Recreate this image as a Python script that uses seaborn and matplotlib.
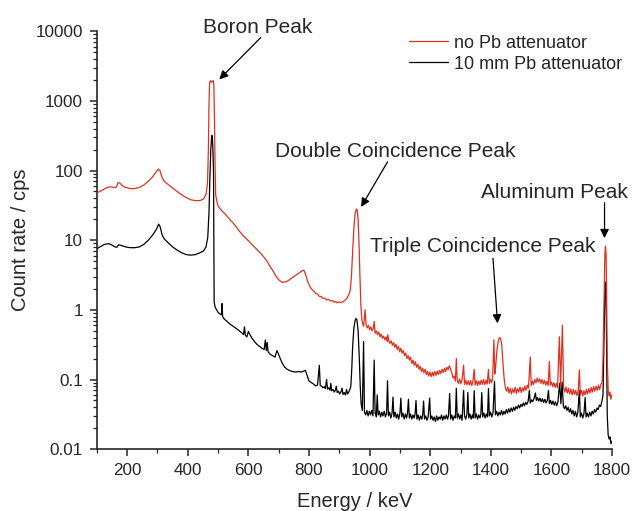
import numpy as np
import pandas as pd
import seaborn as sns
import matplotlib.pyplot as plt
from matplotlib.ticker import MultipleLocator, LogLocator, FuncFormatter, NullFormatter

# spectrum without attenuator (energy in keV, count rate in cps)
red_energy = [
    100, 110, 120, 130, 140, 150, 160, 165, 170, 176, 185, 195, 210, 225, 240, 255, 270, 285, 295, 303,
    308, 315, 322, 335, 350, 370, 390, 410, 425, 440, 452, 460, 465, 468, 470, 472, 475, 478, 481, 484,
    486, 488, 490, 492, 496, 500, 510, 520, 530, 540, 550, 560, 570, 580, 590, 600, 610, 620, 630, 640,
    650, 660, 670, 680, 690, 700, 710, 720, 730, 740, 750, 760, 770, 778, 783, 788, 795, 802, 808, 815,
    822, 828, 834, 840, 846, 852, 858, 864, 870, 876, 882, 888, 894, 900, 906, 912, 918, 924, 930, 936,
    940, 944, 948, 952, 956, 959, 962, 965, 968, 971, 974,
    976, 980, 985, 988, 992, 996, 1000, 1004, 1008, 1012, 1015, 1018, 1022, 1026, 1030, 1034, 1038, 1042,
    1046, 1050, 1054, 1058, 1060, 1063, 1067, 1071, 1075, 1079, 1083, 1087, 1091, 1095, 1099, 1103, 1107,
    1111, 1115, 1119, 1123, 1127, 1131, 1135, 1139, 1143, 1147, 1151, 1155, 1159, 1163, 1167, 1171, 1175,
    1179, 1183, 1187, 1191, 1195, 1199, 1203, 1207, 1211, 1215, 1219, 1223, 1227, 1231, 1235, 1239, 1243,
    1247, 1251, 1255, 1259, 1263, 1267, 1271, 1275, 1279, 1283, 1286, 1289, 1293, 1297, 1301, 1305, 1310,
    1313, 1317, 1321, 1325, 1329, 1333, 1337, 1341, 1345, 1348, 1352, 1356, 1360, 1364, 1368, 1372, 1376,
    1380, 1384, 1388, 1392, 1395, 1399, 1403, 1406, 1410, 1413, 1416, 1420, 1424, 1428, 1432, 1436, 1440,
    1444, 1448, 1452, 1456, 1460, 1464, 1468, 1472, 1476, 1480, 1484, 1488, 1492, 1496, 1500, 1504, 1508,
    1512, 1516, 1520, 1524, 1530, 1533, 1537, 1541, 1545, 1549, 1553, 1557, 1561, 1565, 1569, 1573, 1577,
    1581, 1585, 1589, 1593, 1596, 1600, 1604, 1608, 1612, 1616, 1620, 1626, 1630, 1636, 1640, 1644, 1648,
    1652, 1656, 1660, 1664, 1668, 1672, 1676, 1680, 1684, 1688, 1692, 1695, 1699, 1703, 1707, 1711, 1715,
    1719, 1723, 1727, 1731, 1735, 1739, 1743, 1747, 1751, 1755, 1759, 1763, 1767, 1770, 1773, 1776, 1778,
    1780, 1782, 1784, 1787, 1790, 1793, 1796, 1799,
]
red_counts = [
    48, 50, 53, 56, 58, 58, 57, 58, 67, 66, 60, 57, 55, 55, 57, 62, 70, 82, 95, 105,
    100, 80, 70, 63, 56, 48, 42, 38, 37, 37, 39, 45, 65, 200, 900, 1800, 1950, 1850, 1900, 1950,
    1700, 600, 120, 45, 36, 31, 27, 24.5, 22, 19.5, 17.5, 15.5, 13.5, 12, 10.8, 9.8, 8.8, 8.0, 7.2, 6.5,
    5.8, 5.1, 4.3, 3.7, 3.1, 2.7, 2.5, 2.5, 2.6, 2.8, 3.0, 3.2, 3.45, 3.65, 3.7, 3.3, 2.6, 2.2, 2.0, 1.85,
    1.72, 1.68, 1.56, 1.55, 1.46, 1.47, 1.39, 1.42, 1.34, 1.36, 1.29, 1.32, 1.26, 1.30, 1.27, 1.31, 1.36, 1.45, 1.6, 1.9,
    3, 7, 15, 24, 28, 27, 20, 9, 3, 1.2, 0.75,
    0.66, 0.58, 1.00, 0.62, 0.55, 0.60, 0.52, 0.57, 0.50, 0.54, 0.68, 0.46, 0.50, 0.44, 0.48, 0.41, 0.45, 0.39,
    0.42, 0.37, 0.41, 0.35, 0.44, 0.36, 0.33, 0.36, 0.31, 0.34, 0.29, 0.32, 0.27, 0.30, 0.25, 0.28, 0.24,
    0.26, 0.22, 0.24, 0.20, 0.22, 0.19, 0.21, 0.17, 0.19, 0.16, 0.18, 0.15, 0.165, 0.14, 0.155, 0.13, 0.145,
    0.125, 0.14, 0.118, 0.13, 0.112, 0.128, 0.11, 0.127, 0.112, 0.13, 0.115, 0.132, 0.118, 0.135, 0.122, 0.14, 0.126,
    0.145, 0.13, 0.15, 0.138, 0.158, 0.14, 0.125, 0.105, 0.112, 0.095, 0.20, 0.098, 0.088, 0.102, 0.087, 0.10, 0.16,
    0.085, 0.098, 0.084, 0.096, 0.083, 0.097, 0.082, 0.095, 0.14, 0.083, 0.096, 0.082, 0.095, 0.084, 0.098, 0.085, 0.10,
    0.084, 0.097, 0.086, 0.14, 0.088, 0.10, 0.09, 0.11, 0.37, 0.12, 0.16, 0.26, 0.35, 0.40, 0.39, 0.31, 0.17,
    0.10, 0.075, 0.068, 0.078, 0.064, 0.075, 0.062, 0.073, 0.065, 0.077, 0.063, 0.074, 0.066, 0.078, 0.065, 0.076, 0.068,
    0.08, 0.07, 0.083, 0.075, 0.21, 0.082, 0.095, 0.085, 0.10, 0.09, 0.105, 0.092, 0.102, 0.088, 0.10, 0.086, 0.097,
    0.083, 0.094, 0.082, 0.18, 0.083, 0.092, 0.079, 0.09, 0.077, 0.088, 0.076, 0.41, 0.08, 0.60, 0.074, 0.066, 0.078,
    0.064, 0.075, 0.062, 0.073, 0.06, 0.072, 0.061, 0.07, 0.059, 0.068, 0.137, 0.06, 0.07, 0.058, 0.069, 0.06, 0.072,
    0.062, 0.074, 0.064, 0.077, 0.066, 0.079, 0.068, 0.08, 0.07, 0.083, 0.072, 0.085, 0.09, 0.2, 1.2, 6, 8.2,
    6.5, 1.5, 0.2, 0.07, 0.058, 0.066, 0.052, 0.06,
]

# spectrum with 10 mm Pb attenuator
black_energy = [
    100, 110, 125, 140, 150, 160, 166, 172, 180, 195, 210, 225, 240, 255, 270, 285, 297, 304, 309, 315,
    322, 335, 350, 365, 380, 395, 410, 425, 440, 452, 460, 466, 470, 473, 476, 479, 481, 483, 485, 486,
    487, 490, 495, 500, 505, 511, 513, 515, 520, 530, 540, 550, 560, 570, 580, 584, 587, 590, 595, 600,
    605, 612, 620, 628, 636, 645, 652, 656, 659, 662, 665, 672, 680, 688, 694, 698, 705, 712, 720, 728,
    735, 745, 755, 765, 775, 782, 788, 795, 800, 808, 815, 822, 828, 834, 837, 842, 846, 850, 854, 858,
    861, 865, 869, 872, 875, 879, 883, 887, 890, 893, 897, 901, 905, 909, 912, 916, 920, 924, 927, 931,
    935, 938, 941, 944, 948, 952, 955, 958, 962, 966, 969, 972,
    976, 980, 983, 987, 991, 995, 999, 1003, 1007, 1011, 1015, 1018, 1022, 1025, 1028, 1032, 1036, 1040,
    1044, 1048, 1052, 1056, 1059, 1062, 1066, 1070, 1074, 1077, 1080, 1084, 1088, 1092, 1096, 1100, 1103,
    1106, 1110, 1114, 1118, 1122, 1125, 1128, 1131, 1135, 1139, 1143, 1147, 1150, 1153, 1156, 1160, 1164,
    1168, 1172, 1175, 1178, 1181, 1185, 1189, 1193, 1198, 1201, 1205, 1209, 1213, 1217, 1221, 1225, 1229,
    1233, 1237, 1241, 1245, 1249, 1253, 1257, 1260, 1264, 1267, 1271, 1275, 1279, 1283, 1286, 1289, 1293,
    1297, 1301, 1305, 1310, 1313, 1317, 1321, 1324, 1327, 1331, 1335, 1339, 1342, 1345, 1348, 1352, 1356,
    1360, 1364, 1367, 1370, 1373, 1377, 1381, 1385, 1389, 1392, 1395, 1399, 1403, 1407, 1412, 1415, 1419,
    1423, 1427, 1431, 1435, 1439, 1443, 1447, 1451, 1455, 1459, 1463, 1467, 1471, 1475, 1479, 1483, 1487,
    1491, 1495, 1499, 1503, 1507, 1511, 1515, 1519, 1523, 1527, 1530, 1534, 1538, 1542, 1547, 1550, 1554,
    1558, 1562, 1566, 1570, 1574, 1578, 1582, 1586, 1590, 1593, 1597, 1601, 1605, 1609, 1613, 1617, 1621,
    1627, 1631, 1635, 1639, 1643, 1647, 1651, 1655, 1659, 1663, 1667, 1671, 1675, 1679, 1683, 1687, 1692,
    1695, 1699, 1703, 1707, 1711, 1714, 1718, 1722, 1726, 1730, 1734, 1738, 1742, 1746, 1750, 1754, 1758,
    1762, 1766, 1770, 1773, 1776, 1778, 1780, 1782, 1784, 1787, 1790, 1793, 1796, 1799,
]
black_counts = [
    7.5, 8.0, 8.7, 8.9, 8.5, 8.0, 7.9, 8.6, 8.4, 8.0, 7.8, 7.8, 8.0, 8.7, 10, 12, 14.5, 17, 15.5, 12,
    10.5, 9.2, 8.0, 7.2, 6.6, 6.2, 6.1, 6.2, 6.6, 7.0, 8, 11, 25, 80, 200, 320, 300, 200, 90, 8,
    1.3, 1.1, 1.0, 0.92, 0.88, 0.85, 1.23, 0.8, 0.74, 0.68, 0.62, 0.58, 0.54, 0.50, 0.46, 0.44, 0.57, 0.43, 0.41, 0.49,
    0.44, 0.39, 0.35, 0.32, 0.30, 0.28, 0.27, 0.37, 0.26, 0.34, 0.25, 0.23, 0.22, 0.21, 0.26, 0.24, 0.20, 0.17, 0.15, 0.14,
    0.135, 0.13, 0.128, 0.13, 0.128, 0.132, 0.135, 0.11, 0.095, 0.09, 0.086, 0.081, 0.083, 0.16, 0.082, 0.08, 0.076, 0.079, 0.074, 0.10,
    0.073, 0.076, 0.07, 0.088, 0.069, 0.072, 0.066, 0.07, 0.08, 0.065, 0.068, 0.062, 0.066, 0.075, 0.061, 0.065, 0.06, 0.072, 0.062, 0.066,
    0.072, 0.08, 0.14, 0.3, 0.55, 0.7, 0.75, 0.72, 0.5, 0.2, 0.08, 0.045,
    0.036, 0.35, 0.034, 0.031, 0.036, 0.030, 0.035, 0.031, 0.036, 0.030, 0.19, 0.033, 0.029, 0.06, 0.031, 0.035, 0.029, 0.034,
    0.030, 0.035, 0.029, 0.033, 0.096, 0.030, 0.034, 0.028, 0.033, 0.056, 0.029, 0.034, 0.028, 0.032, 0.027, 0.033, 0.054,
    0.029, 0.033, 0.027, 0.032, 0.028, 0.033, 0.052, 0.028, 0.032, 0.027, 0.031, 0.028, 0.032, 0.05, 0.027, 0.031, 0.026,
    0.030, 0.027, 0.031, 0.049, 0.027, 0.030, 0.026, 0.029, 0.054, 0.027, 0.030, 0.026, 0.029, 0.025, 0.030, 0.026, 0.029,
    0.027, 0.031, 0.026, 0.030, 0.027, 0.031, 0.027, 0.030, 0.063, 0.027, 0.031, 0.026, 0.030, 0.028, 0.075, 0.028, 0.032,
    0.027, 0.031, 0.026, 0.07, 0.030, 0.027, 0.032, 0.065, 0.028, 0.032, 0.027, 0.031, 0.028, 0.069, 0.028, 0.032, 0.027,
    0.031, 0.028, 0.032, 0.065, 0.029, 0.033, 0.028, 0.032, 0.029, 0.074, 0.030, 0.034, 0.029, 0.033, 0.094, 0.031, 0.035,
    0.030, 0.034, 0.031, 0.036, 0.031, 0.035, 0.032, 0.037, 0.033, 0.038, 0.034, 0.039, 0.035, 0.040, 0.036, 0.041, 0.038,
    0.043, 0.039, 0.044, 0.041, 0.046, 0.042, 0.047, 0.044, 0.049, 0.07, 0.046, 0.051, 0.048, 0.053, 0.064, 0.050, 0.055,
    0.049, 0.054, 0.048, 0.053, 0.047, 0.052, 0.046, 0.050, 0.07, 0.045, 0.050, 0.044, 0.049, 0.043, 0.048, 0.042, 0.047,
    0.088, 0.045, 0.092, 0.042, 0.038, 0.042, 0.036, 0.040, 0.034, 0.038, 0.032, 0.036, 0.030, 0.035, 0.029, 0.034, 0.07,
    0.029, 0.033, 0.028, 0.032, 0.055, 0.029, 0.033, 0.029, 0.034, 0.030, 0.035, 0.032, 0.037, 0.034, 0.039, 0.037, 0.043,
    0.041, 0.048, 0.06, 0.3, 1.8, 2.5, 1.5, 0.2, 0.03, 0.016, 0.014, 0.015, 0.012, 0.013,
]

series_labels = ["no Pb attenuator", "10 mm Pb attenuator"]
peak_labels = ["Boron Peak", "Double Coincidence Peak", "Triple Coincidence Peak", "Aluminum Peak"]
y_ticks = [0.01, 0.1, 1, 10, 100, 1000, 10000]

red = "#e0301e"

sns.set_theme(style="ticks")
plt.rcParams["font.family"] = ["Liberation Sans", "DejaVu Sans"]

df_red = pd.DataFrame({"energy": red_energy, "counts": red_counts})
df_black = pd.DataFrame({"energy": black_energy, "counts": black_counts})

fig = plt.figure(figsize=(6.33, 5.11), dpi=100)
ax = fig.add_axes([0.153, 0.121, 0.814, 0.818])

sns.lineplot(data=df_red, x="energy", y="counts", ax=ax, color=red, lw=0.9,
             sort=False, estimator=None, label=series_labels[0], zorder=3)
sns.lineplot(data=df_black, x="energy", y="counts", ax=ax, color="black", lw=0.9,
             sort=False, estimator=None, label=series_labels[1], zorder=2)

ax.set_yscale("log")
ax.set_xlim(100, 1800)
ax.set_ylim(0.01, 10000)
ax.set_yticks(y_ticks)
ax.yaxis.set_major_formatter(FuncFormatter(lambda v, p: f"{v:g}"))
ax.yaxis.set_minor_locator(LogLocator(base=10, subs=np.arange(2, 10)))
ax.yaxis.set_minor_formatter(NullFormatter())
ax.xaxis.set_major_locator(MultipleLocator(200))
ax.xaxis.set_minor_locator(MultipleLocator(100))

for s in ["top", "right"]:
    ax.spines[s].set_visible(False)
for s in ["left", "bottom"]:
    ax.spines[s].set_linewidth(1.2)
ax.tick_params(which="major", direction="out", length=5, width=1.1, labelsize=12.3, pad=5)
ax.tick_params(which="minor", direction="out", length=3, width=0.9)

ax.set_xlabel("Energy / keV", fontsize=14.5)
ax.set_ylabel("Count rate / cps", fontsize=14.5)
ax.xaxis.set_label_coords(0.5, -0.103)
ax.yaxis.set_label_coords(-0.13, 0.5)

# peak annotations: text baseline positions and arrows (tail -> head)
arrow = dict(arrowstyle="-|>", color="black", lw=0.9, mutation_scale=13, shrinkA=0, shrinkB=0)
ax.text(632, 9360, peak_labels[0], ha="center", va="baseline", fontsize=15, clip_on=False)
ax.annotate("", xy=(504, 2030), xytext=(641, 8120), arrowprops=arrow)
ax.text(1084, 156, peak_labels[1], ha="center", va="baseline", fontsize=15)
ax.annotate("", xy=(972, 30), xytext=(1059, 133), arrowprops=arrow)
ax.text(1373, 6.83, peak_labels[2], ha="center", va="baseline", fontsize=15)
ax.annotate("", xy=(1422, 0.64), xytext=(1407, 5.5), arrowprops=arrow)
ax.text(1611, 39.8, peak_labels[3], ha="center", va="baseline", fontsize=15)
ax.annotate("", xy=(1775, 10.7), xytext=(1775, 34.4), arrowprops=arrow)

ax.legend(loc="upper left", bbox_to_anchor=(409 / 633, 0.932), bbox_transform=fig.transFigure,
          frameon=False, fontsize=13, borderpad=0, borderaxespad=0, handlelength=2.17,
          handletextpad=0.33, labelspacing=0.21)

fig.savefig("out.png", dpi=100)
